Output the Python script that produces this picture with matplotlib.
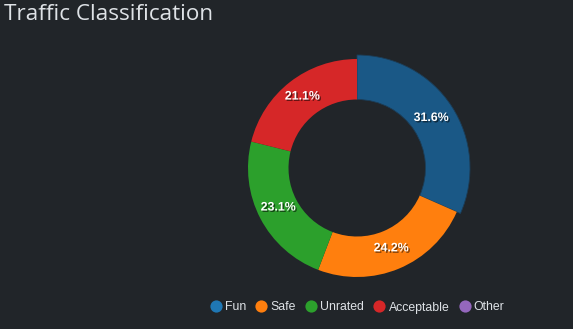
import matplotlib
matplotlib.use("Agg")
import matplotlib.pyplot as plt
import matplotlib.patheffects as pe
from matplotlib.lines import Line2D
import numpy as np

# Traffic classification shares (percent)
categories = ["Fun", "Safe", "Unrated", "Acceptable", "Other"]
values = [31.6, 24.2, 23.1, 21.1, 0.0]
colors = ["#1f77b4", "#ff7f0e", "#2ca02c", "#d62728", "#9467bd"]
highlight_color = "#1a5886"  # active (hovered) segment shade
title = "Traffic Classification"

BG = "#212529"
TXT = "#dee2e6"
W, H = 573, 329

fig = plt.figure(figsize=(W / 100, H / 100), dpi=100, facecolor=BG)
ax = fig.add_axes([0, 0, 1, 1])
ax.set_facecolor(BG)
ax.set_xlim(0, W)
ax.set_ylim(0, H)
ax.set_aspect("equal")
ax.axis("off")

cx, cy = 357, H - 168
r_out, r_in = 109, 68.5

wedges, _ = ax.pie(values, colors=colors, startangle=90, counterclock=False,
                   center=(cx, cy), radius=r_out,
                   wedgeprops=dict(width=r_out - r_in, linewidth=0))
ax.set_xlim(0, W)
ax.set_ylim(0, H)

# enlarge and darken the active segment
active = wedges[0]
active.set_radius(113)
active.set_width(113 - r_in)
active.set_facecolor(highlight_color)
active.set_edgecolor("#1b3d57")
active.set_linewidth(0.6)

# percentage labels at the middle of the ring
total = sum(values)
shadow = [pe.SimplePatchShadow(offset=(1, -1), shadow_rgbFace="black", alpha=0.55), pe.Normal()]
start = 90.0
r_mid = (r_out + r_in) / 2
for v in values:
    sweep = 360.0 * v / total
    if v > 0:
        mid = np.deg2rad(start - sweep / 2)
        ax.text(cx + r_mid * np.cos(mid), cy + r_mid * np.sin(mid) + 1.5,
                f"{v:.1f}%", color="white", fontsize=8.9, fontweight="bold",
                family="Liberation Sans", ha="center", va="center",
                path_effects=shadow)
    start -= sweep

fig.text(4 / W, 1 - 15 / H, title, color=TXT, fontsize=16.2,
         family="Open Sans", ha="left", va="center")

handles = [Line2D([], [], marker="o", linestyle="none", markersize=8.8,
                  markerfacecolor=c, markeredgewidth=0) for c in colors]
leg = fig.legend(handles, categories, loc="center", ncol=5,
                 bbox_to_anchor=(357 / W, 1 - 307.5 / H),
                 frameon=False, handletextpad=0.25, columnspacing=0.75,
                 handlelength=1.0, prop=dict(family="Liberation Sans", size=8.8))
for t in leg.get_texts():
    t.set_color(TXT)

fig.savefig("out.png", dpi=100, facecolor=BG)
